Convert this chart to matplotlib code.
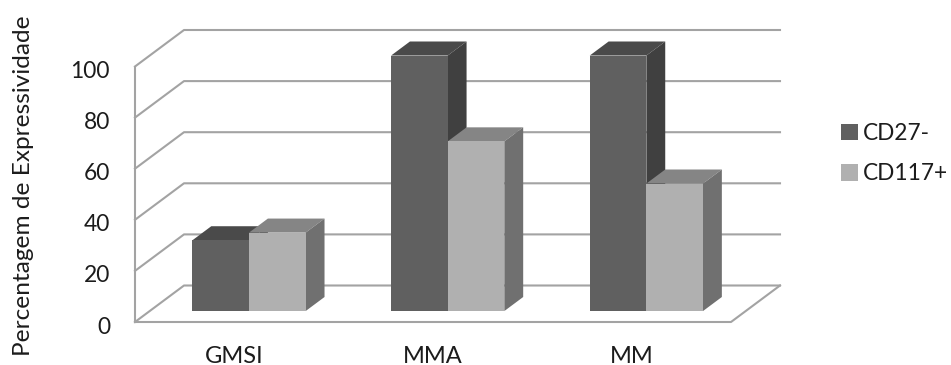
import matplotlib
matplotlib.use('Agg')
import matplotlib.pyplot as plt
from matplotlib.patches import Polygon
from matplotlib.transforms import ScaledTranslation

plt.rcParams['font.family'] = ['Lato', 'DejaVu Sans']

groups = ['GMSI', 'MMA', 'MM']
cd27 = [27.7, 100, 100]
cd117 = [30.7, 66.4, 49.9]
y_ticks = [0, 20, 40, 60, 80, 100]

W, H = 951, 365
TXT = '#1c1c1c'
fig = plt.figure(figsize=(W / 100, H / 100), dpi=100)
# axes box is the front plane of the 3d chart
ax = fig.add_axes([135 / W, 1 - 322 / H, (731 - 135) / W, (322 - 66.5) / H])
ax.set_xlim(0, 3)
ax.set_ylim(0, 100)
ax.patch.set_visible(False)
for s in ax.spines.values():
    s.set_visible(False)

# full depth of the box, in data units
DX = 49 / (596 / 3)
DY = 36.5 / 2.555
D0, D1 = 0.30, 0.685   # where bars start and stop in depth
BAR = 0.285
GRID = '#a3a3a3'


def proj(x, v, d):
    return x + d * DX, v + d * DY


def line(pts, z=1):
    ax.plot([p[0] for p in pts], [p[1] for p in pts], color=GRID, lw=1.5,
            zorder=z, clip_on=False, solid_capstyle='projecting')


# walls and floor
for t in y_ticks:
    line([proj(0, t, 0), proj(0, t, 1), proj(3, t, 1)])
line([proj(0, 0, 0), proj(0, 100, 0)])
line([proj(0, 0, 0), proj(3, 0, 0), proj(3, 0, 1)])


def bar3d(left, val, front, top, side, label, z):
    x0, base = proj(left, 0, D0)
    ax.bar(x0, val, BAR, bottom=base, align='edge', color=front, label=label,
           zorder=z + 1, clip_on=False)
    x1 = left + BAR
    ax.add_patch(Polygon([proj(left, val, D0), proj(x1, val, D0),
                          proj(x1, val, D1), proj(left, val, D1)],
                         closed=True, fc=top, ec='none', zorder=z, clip_on=False))
    ax.add_patch(Polygon([proj(x1, 0, D0), proj(x1, val, D0),
                          proj(x1, val, D1), proj(x1, 0, D1)],
                         closed=True, fc=side, ec='none', zorder=z, clip_on=False))


for i in range(len(groups)):
    c = i + 0.5
    bar3d(c - BAR, cd27[i], '#606060', '#4a4a4a', '#404040',
          'CD27-' if i == 0 else None, 2 + i * 4)
    bar3d(c, cd117[i], '#b0b0b0', '#858585', '#707070',
          'CD117+' if i == 0 else None, 4 + i * 4)

ax.set_xticks([i + 0.5 for i in range(len(groups))], groups)
ax.set_yticks(y_ticks, [str(t) for t in y_ticks])
ax.tick_params(axis='both', length=0, labelsize=16.4, labelcolor=TXT)
ax.tick_params(axis='x', pad=17, labelsize=17)
ax.tick_params(axis='y', pad=18)
# nudge the value labels down a little
nudge = ScaledTranslation(0, -3 / 100, fig.dpi_scale_trans)
for lab in ax.get_yticklabels():
    lab.set_transform(lab.get_transform() + nudge)
fig.text(24 / W, 1 - 186 / H, 'Percentagem de Expressividade', rotation=90,
         fontsize=17.6, color=TXT, ha='center', va='center')

h, l = ax.get_legend_handles_labels()
fig.legend(h, l, loc='center left', bbox_to_anchor=(821 / W, 1 - 153.5 / H), frameon=False,
           fontsize=16.3, handlelength=0.72, handleheight=0.72, handletextpad=0.25,
           labelspacing=0.88, labelcolor=TXT)

fig.savefig('out.png', dpi=100)
